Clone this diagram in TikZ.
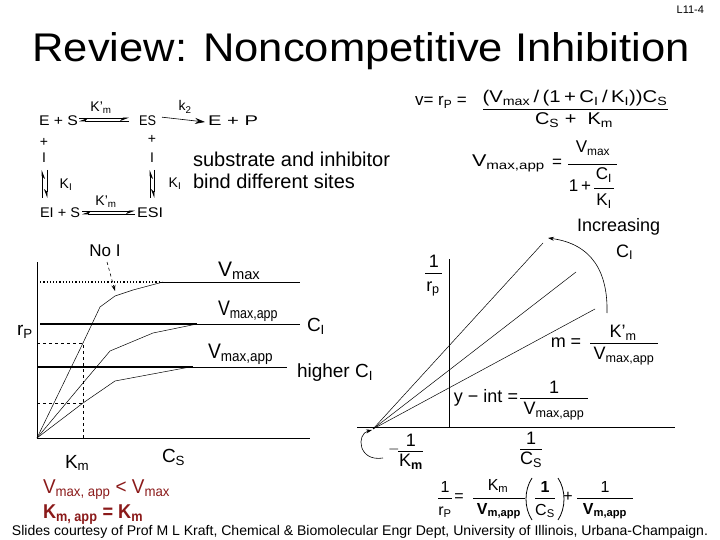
\documentclass[tikz,border=0pt]{standalone}
\usepackage{fontspec}
\usepackage{graphicx}
\setmainfont{Liberation Sans}
\usetikzlibrary{arrows.meta}
\definecolor{dred}{RGB}{139,26,26}
\newcommand\sbb[1]{\textsubscript{#1}}
\newcommand\fs[1]{\fontsize{#1}{#1}\selectfont}
\newcommand\wid[2]{\resizebox{#1pt}{\height}{#2}}
\begin{document}
\begin{tikzpicture}[x=1pt,y=-1pt,
  t/.style={inner sep=0pt,outer sep=0pt},
  thin/.style={line width=0.6pt},
  harps/.style={line width=0.7pt,-{Stealth[harpoon,swap,length=8pt,width=6pt]}},
  tip/.style={-{Stealth[length=6pt,width=4pt]}},
  bar/.style={line width=0.6pt},
  thickl/.style={line width=2.4pt},
  curve/.style={line width=0.5pt}]
\useasboundingbox (0,0) rectangle (720,540);
\fill[white] (0,0) rectangle (720,540);

% title
\node[t,anchor=base,font=\fs{40}] (title) at (361,62) {\wid{657}{Review: Noncompetitive Inhibition}};
\node[t,anchor=base east,font=\fs{11}] (pg) at (704,14) {L11-4};

% ---------- reaction scheme ----------
\begin{scope}[font=\fs{14}]
\node[t,anchor=base west] (es) at (39,126) {\wid{39}{E + S}};
\node[t,anchor=base west] (ES) at (139,126) {\wid{17}{ES}};
\node[t,anchor=base west] (ep) at (208,126) {\wid{50}{E + P}};
\node[t] (km1) at (101,108) {K'\sbb{m}};
\node[t] (k2) at (185,107) {k\sbb{2}};
\node[t] (pl1) at (44,142) {+};
\node[t] (pl2) at (152,139) {+};
\node[t] (i1) at (44,158) {I};
\node[t] (i2) at (152,158) {I};
\node[t] (ki1) at (66,185) {K\sbb{I}};
\node[t] (ki2) at (175,184) {K\sbb{I}};
\node[t,anchor=base west] (eis) at (40,218) {\wid{40}{EI + S}};
\node[t,anchor=base west] (ESI) at (137,218) {\wid{26}{ESI}};
\node[t] (km2) at (106,202) {K'\sbb{m}};
\end{scope}
\coordinate (a1) at (79,118); \coordinate (a2) at (129,118);
\coordinate (a3) at (129,121); \coordinate (a4) at (79,121);
\draw[harps] (a1) -- (a2);
\draw[harps] (a3) -- (a4);
\draw[line width=0.6pt,-{Stealth[length=10pt,width=6pt]}] (ES.east) ++(6,-4) coordinate (k2s) -- (205,122) coordinate (k2e);
\coordinate (b1) at (82,211); \coordinate (b2) at (135,211);
\coordinate (b3) at (135,214); \coordinate (b4) at (82,214);
\draw[harps] (b1) -- (b2);
\draw[harps] (b3) -- (b4);
\coordinate (v1) at (42,198); \coordinate (v2) at (42,170);
\coordinate (v3) at (47,170); \coordinate (v4) at (47,198);
\draw[harps] (v1) -- (v2);
\draw[harps] (v3) -- (v4);
\coordinate (w1) at (150,198); \coordinate (w2) at (150,170);
\coordinate (w3) at (154,170); \coordinate (w4) at (154,198);
\draw[harps] (w1) -- (w2);
\draw[harps] (w3) -- (w4);

\node[t,anchor=base west,font=\fs{20}] (sub1) at (193,167) {\wid{197}{substrate and inhibitor}};
\node[t,anchor=base west,font=\fs{20}] (sub2) at (193,189) {bind different sites};

% ---------- rate equation ----------
\begin{scope}[font=\fs{17}]
\node[t,anchor=base west] (v) at (415,106) {v= r\sbb{P} =};
\node[t,anchor=base] (num1) at (575,103) {\wid{185}{(V\sbb{max}\,/\,(1\,+\,C\sbb{I}\,/\,K\sbb{I}))C\sbb{S}}};
\node[t,anchor=base] (den1) at (574,125) {\wid{78}{C\sbb{S} +\ \ K\sbb{m}}};
\node[t,anchor=base west] (vapp) at (472,167) {\wid{73}{V\sbb{max,app}}};
\node[t] (eq2) at (557,163) {=};
\node[t,anchor=base] (num2) at (593,153) {V\sbb{max}};
\node[t] (onep) at (580,186) {1\,+};
\node[t] (ci2) at (604,175) {C\sbb{I}};
\node[t] (ki3) at (604,201) {K\sbb{I}};
\end{scope}
\draw[bar] (483,109) -- (668,109);
\draw[bar] (568,164) -- (617,164);
\draw[bar] (594,188) -- (614,188);

% ---------- left plot ----------
\draw[thin] (37,262) coordinate (ly) -- (37,438) coordinate (lo) -- (310,438) coordinate (lx);
\draw[line width=1.2pt,dotted] (37,282) -- (160,282) coordinate (vm);
\draw[thin] (vm) -- (300,282);
\draw[thickl] (40,324) -- (197,324) coordinate (va1);
\draw[thin] (va1) -- (300,324);
\draw[thickl] (37,367) -- (193,367) coordinate (va2);
\draw[thin] (va2) -- (287,367);
\draw[thin,dashed] (37,343) -- (83,343) -- (83,438);
\draw[thin,dashed] (37,403) -- (83,403);
\draw[curve] (lo) -- (83,343) -- (100,307) -- (115,296) -- (133,290) -- (163,282);
\draw[curve] (lo) -- (83,383) -- (110,351) -- (153,333) -- (197,324);
\draw[curve] (lo) -- (83,403) -- (115,381) -- (190,367);
\node[t,font=\fs{17}] (noi) at (105,251) {No I};
\draw[thin,dashed,tip] (107,262) -- (115,291);
\begin{scope}[font=\fs{21}]
\node[t,anchor=base west] (lvm) at (218,276) {V\sbb{max}};
\node[t,anchor=base west] (lva1) at (218,315) {\wid{60}{V\sbb{max,app}}};
\node[t,anchor=base west] (lva2) at (208,358) {\wid{65}{V\sbb{max,app}}};
\end{scope}
\begin{scope}[font=\fs{19}]
\node[t,anchor=base west] (lci) at (307,331) {C\sbb{I}};
\node[t,anchor=base west] (lhci) at (297,377) {higher C\sbb{I}};
\node[t,anchor=base west] (lrp) at (17,335) {r\sbb{P}};
\node[t,anchor=base west] (lkm) at (65,468) {K\sbb{m}};
\node[t,anchor=base west] (lcs) at (162,462) {C\sbb{S}};
\end{scope}

% red notes
\node[t,anchor=base west,font=\fs{20},text=dred] (r1) at (43,493) {\wid{127}{V\sbb{max, app} < V\sbb{max}}};
\node[t,anchor=base west,font=\fs{20}\bfseries,text=dred] (r2) at (43,518) {\wid{100}{K\sbb{m, app} = K\sbb{m}}};

% ---------- right plot ----------
\draw[thin] (449,259) -- (449,427);
\draw[thin] (357,427) -- (675,427);
\coordinate (O) at (373,429);
\draw[curve] (O) -- (543,243) coordinate (l1);
\draw[curve] (O) -- (576,272) coordinate (l2);
\draw[curve] (O) -- (595,309) coordinate (l3);
\draw[thin,tip] (607,313) .. controls (608,272) and (592,244) .. (548,238);
\draw[thin,tip] (383,458) .. controls (358,462) and (356,434) .. (372,430);
\begin{scope}[font=\fs{18}]
\node[t,anchor=base west] (inc) at (577,232) {Increasing};
\node[t,anchor=base west] (incc) at (616,257) {C\sbb{I}};
\node[t] (one1) at (434,261) {1};
\node[t] (rp1) at (433,289) {r\sbb{p}};
\node[t] (meq) at (566,343) {m =};
\node[t] (kpm) at (623,333) {K'\sbb{m}};
\node[t] (vma1) at (624,356) {V\sbb{max,app}};
\node[t] (yint) at (486,398) {y − int =};
\node[t] (one2) at (554,387) {1};
\node[t] (vma2) at (554,411) {V\sbb{max,app}};
\node[t,text=gray] (mn) at (394,452) {−};
\node[t] (one3) at (411,440) {1};
\node[t] (km3) at (411,462) {K\sbb{\bfseries m}};
\node[t] (one4) at (531,438) {1};
\node[t] (cs3) at (531,460) {C\sbb{S}};
\end{scope}
\draw[bar] (425,273) -- (442,273);
\draw[bar] (590,343) -- (658,343);
\draw[bar] (520,398) -- (588,398);
\draw[bar] (398,451) -- (423,451);
\draw[bar] (520,449) -- (542,449);

% bottom equation
\begin{scope}[font=\fs{16}]
\node[t] (b1n) at (445,487) {1};
\node[t] (b1d) at (445,512) {r\sbb{P}};
\node[t] (beq) at (459,498) {=};
\node[t] (b2n) at (498,486) {K\sbb{m}};
\node[t] (b2d) at (499,511) {\textbf{V\sbb{m,app}}};
\node[t] (b3n) at (545,487) {\textbf{1}};
\node[t] (b3d) at (545,511) {C\sbb{S}};
\node[t] (bplus) at (568,497) {+};
\node[t] (b4n) at (605,487) {1};
\node[t] (b4d) at (605,511) {\textbf{V\sbb{m,app}}};
\end{scope}
\draw[line width=0.8pt] (532,478) .. controls (524,490) and (524,508) .. (532,520);
\draw[line width=0.8pt] (558,478) .. controls (566,490) and (566,508) .. (558,520);
\draw[bar] (438,498) -- (452,498);
\draw[bar] (473,498) -- (525,498);
\draw[bar] (535,498) -- (555,498);
\draw[bar] (577,498) -- (633,498);

% footer
\node[t,anchor=base west,font=\fs{14}] (foot) at (12,535) {\wid{696}{Slides courtesy of Prof M L Kraft, Chemical \& Biomolecular Engr Dept, University of Illinois, Urbana-Champaign.}};
\end{tikzpicture}
\end{document}
